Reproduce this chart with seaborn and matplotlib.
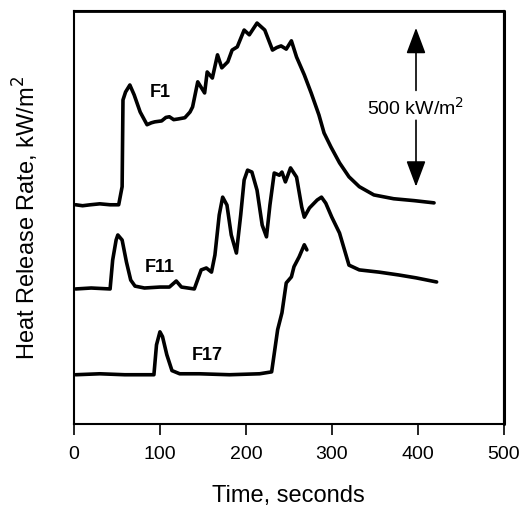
import numpy as np
import matplotlib
matplotlib.use('Agg')
import matplotlib.pyplot as plt
import seaborn as sns
import pandas as pd

# heat release rate curves (kW/m2, relative to each curve's own baseline)
f1_time = [2, 10, 19, 30, 42, 52, 56, 57, 60, 65, 70, 77, 85, 90, 94, 102, 107, 111, 116, 121,
           129, 135, 138, 144, 152, 155, 161, 167, 172, 179, 184, 190, 198, 204, 213, 222,
           231, 236, 241, 247, 253, 259, 268, 276, 285, 291, 299, 309, 320, 332, 349, 372,
           396, 419]
f1_hrr = [0, -3, 0, 3, 0, 0, 57, 330, 355, 377, 346, 292, 252, 258, 261, 264, 275, 277, 268, 270,
          274, 292, 308, 387, 352, 418, 399, 472, 431, 450, 487, 497, 550, 535, 572, 550,
          487, 495, 500, 490, 516, 465, 409, 352, 283, 226, 182, 132, 88, 57, 31, 19,
          13, 6]

f11_time = [2, 20, 42, 45, 49, 51, 56, 61, 66, 71, 82, 100, 111, 119, 125, 140, 148, 154, 160,
            164, 169, 173, 178, 183, 189, 194, 198, 202, 207, 213, 219, 224, 228, 233, 239,
            242, 246, 252, 259, 265, 268, 274, 283, 288, 293, 300, 309, 320, 332, 355, 378,
            398, 422]
f11_hrr = [0, 3, 0, 91, 154, 170, 154, 85, 28, 9, 3, 6, 6, 25, 6, 0, 60, 66, 53,
           107, 233, 289, 264, 170, 113, 233, 343, 374, 368, 311, 201, 164, 264, 365, 358,
           368, 337, 381, 352, 258, 226, 255, 280, 289, 270, 226, 176, 75, 60, 53, 44,
           35, 22]

f17_time = [2, 30, 59, 77, 93, 96, 100, 103, 108, 114, 123, 146, 181, 216, 230, 237, 242,
            247, 253, 256, 262, 268, 271]
f17_hrr = [0, 3, 0, 0, 0, 94, 135, 120, 63, 13, 3, 3, 0, 3, 9, 142, 195,
           289, 308, 340, 371, 409, 393]

tests = ['F1', 'F11', 'F17']
offsets = [690, 425, 155]
scale_bar = 500

sns.set_style('ticks')
plt.rcParams['font.family'] = ['Liberation Sans', 'DejaVu Sans']
plt.rcParams['text.color'] = 'black'
plt.rcParams['axes.labelcolor'] = 'black'
plt.rcParams['xtick.color'] = 'black'
plt.rcParams['axes.edgecolor'] = 'black'

fig, ax = plt.subplots(figsize=(5.23, 5.11), dpi=100)
fig.subplots_adjust(left=0.1415, right=0.963, bottom=0.1703, top=0.9785)

curves = [(f1_time, f1_hrr), (f11_time, f11_hrr), (f17_time, f17_hrr)]
for (t, h), off in zip(curves, offsets):
    sns.lineplot(x=t, y=np.array(h) + off, color='black', lw=2.6, estimator=None,
                 sort=False, ax=ax)

# curve labels
ax.text(100, 1044, 'F1', fontsize=13, fontweight='bold', ha='center', va='center')
ax.text(100, 494, 'F11', fontsize=13, fontweight='bold', ha='center', va='center')
ax.text(155, 217, 'F17', fontsize=13, fontweight='bold', ha='center', va='center')

# scale bar arrow
ax_x = 398
mid = 1000
arr = dict(arrowstyle='-|>,head_length=0.8,head_width=0.3', color='black', lw=1.2,
           mutation_scale=20, shrinkA=0, shrinkB=0)
ax.annotate('', xy=(ax_x, mid + scale_bar / 2 - 3), xytext=(ax_x, mid + 50), arrowprops=arr)
ax.annotate('', xy=(ax_x, mid - scale_bar / 2 - 3), xytext=(ax_x, mid - 44), arrowprops=arr)
ax.text(ax_x, mid - 6, '500 kW/m$^2$', fontsize=14, ha='center', va='center')

ax.set_xlim(0, 500)
ax.set_ylim(0, 1300)
ax.set_xticks([0, 100, 200, 300, 400, 500])
ax.set_yticks([])
ax.tick_params(axis='x', direction='out', length=8, width=1.2, labelsize=14, pad=8)
for side in ['top', 'right', 'bottom', 'left']:
    ax.spines[side].set_visible(True)
    ax.spines[side].set_linewidth(1.5)
    ax.spines[side].set_color('black')
# explicit top and right frame lines
ax.plot([0, 1], [1, 1], transform=ax.transAxes, color='black', lw=2,
        clip_on=False, zorder=10)
ax.plot([1, 1], [0, 1], transform=ax.transAxes, color='black', lw=2.2,
        clip_on=False, zorder=10)
ax.set_xlabel('Time, seconds', fontsize=17, labelpad=16)
ax.set_ylabel('Heat Release Rate, kW/m$^2$', fontsize=17, labelpad=24)

fig.savefig('out.png', dpi=100)
